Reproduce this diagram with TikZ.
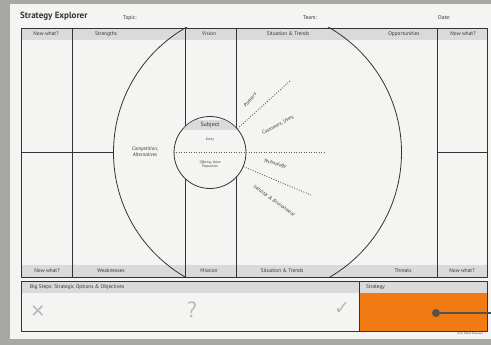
\documentclass[tikz,border=0pt]{standalone}
\usepackage{fontspec}
\setmainfont{PT Sans}
\newfontfamily\symfont{DejaVu Sans}
\usetikzlibrary{positioning,calc}
\definecolor{paper}{HTML}{F4F4F2}
\definecolor{band}{HTML}{DADADA}
\definecolor{ink}{HTML}{333333}
\definecolor{mark}{HTML}{B8B8B8}
\definecolor{strat}{HTML}{F27A12}
\definecolor{desk}{HTML}{A9A7A4}

\begin{document}
\begin{tikzpicture}[x=1pt,y=-1pt,line join=round,
  frame/.style={draw=ink,line width=0.8pt},
  head/.style={font=\fontsize{5.3}{6}\selectfont,text=ink,inner sep=0pt},
  topic/.style={font=\fontsize{5.5}{6}\selectfont,text=ink,inner sep=0pt,anchor=west},
  note/.style={font=\fontsize{5.1}{6}\selectfont\itshape,text=ink,inner sep=0pt,align=center},
  tiny/.style={font=\fontsize{3.5}{4}\selectfont\itshape,text=ink,inner sep=0pt,align=center},
  ray/.style={draw=ink!80,line width=0.9pt,dash pattern=on 0.9pt off 1.6pt},
  sign/.style={font=\symfont\fontsize{18}{18}\selectfont,text=mark,inner sep=0pt}]
  \useasboundingbox (0,0) rectangle (491,345);
  % desk and sheet
  \fill[desk] (0,0) rectangle (491,345);
  \fill[paper] (10,4) rectangle (491,339);
  % title row
  \node[anchor=west,inner sep=0pt,font=\fontsize{9}{10}\selectfont\bfseries,text=ink] (title) at (20,16) {Strategy Explorer};
  \node[topic] (topic) at (123,18) {Topic:};
  \node[topic] (team) at (303,18) {Team:};
  \node[topic] (date) at (438,18) {Date:};
  % header and footer bands
  \fill[band] (21,28) rectangle (487,40);
  \fill[band] (21,265) rectangle (487,277);
  % big circle, cut by the frame
  \begin{scope}
    \clip (21,28) rectangle (487,277);
    \draw[frame] (257.5,152.5) circle (144);
  \end{scope}
  % frame and columns
  \draw[frame] (21,28) rectangle (487,277);
  \draw[frame] (72,28) -- (72,277);
  \draw[frame] (185,28) -- (185,277);
  \draw[frame] (236,28) -- (236,277);
  \draw[frame] (437,28) -- (437,277);
  \draw[frame] (21,152.5) -- (113.5,152.5);
  \draw[frame] (437,152.5) -- (487,152.5);
  % subject circle
  \node[circle,draw=ink,fill=paper,line width=0.8pt,minimum size=72pt,inner sep=0pt] (subj) at (210,152.5) {};
  \begin{scope}
    \clip (210,152.5) circle (35.5);
    \fill[band] (170,120) rectangle (250,130);
  \end{scope}
  \node[head,font=\fontsize{6}{7}\selectfont] (subject) at (210,125) {Subject};
  \node[tiny] (entity) at (210,140) {Entity};
  \node[tiny] (offer) at (210,165) {Offering, Value\\Proposition};
  % rays
  \coordinate (p) at (290,81);
  \coordinate (t) at (325,152.5);
  \coordinate (i) at (311,195);
  \draw[ray] (subj.west) -- (t);
  \draw[ray] (subj.41) -- (p);
  \draw[ray] (subj.-23) -- (i);
  \node[note,rotate=52] (partners) at (250,100) {Partners};
  \node[note,rotate=28] (users) at (278,125) {Customers, Users};
  \node[note,rotate=-15] (tech) at (275,164) {Technology};
  \node[note,rotate=-36] (env) at (274,201) {Industry \& Environment};
  \node[note] (compet) at (145,152) {Competition,\\Alternatives};
  % column heads
  \node[head] (nw1) at (46,34) {Now what?};
  \node[head] (str) at (106,34) {Strengths};
  \node[head] (vis) at (209,34) {Vision};
  \node[head] (sit1) at (288,34) {Situation \& Trends};
  \node[head] (opp) at (404,34) {Opportunities};
  \node[head] (nw2) at (463,34) {Now what?};
  % column feet
  \node[head] (nw3) at (47,271) {Now what?};
  \node[head] (weak) at (111,271) {Weaknesses};
  \node[head] (mis) at (209,271) {Mission};
  \node[head] (sit2) at (282,271) {Situation \& Trends};
  \node[head] (thr) at (403,271) {Threats};
  \node[head] (nw4) at (462,271) {Now what?};
  % big steps and strategy
  \fill[band] (21,281) rectangle (487,293);
  \fill[strat] (359,293) rectangle (487,331);
  \draw[frame] (21,281) rectangle (487,331);
  \draw[frame] (359,281) -- (359,331);
  \node[head,anchor=west] (steps) at (30,287) {Big Steps: Strategic Options \& Objectives};
  \node[head,anchor=west] (strategy) at (366,287) {Strategy};
  \node[sign] (no) at (38,312) {✕};
  \node[sign,font=\fontsize{22}{22}\selectfont] (maybe) at (192,310) {?};
  \node[sign,font=\symfont\fontsize{19}{19}\selectfont] (yes) at (342,309) {✓};
  \node[circle,fill=ink!85,inner sep=0pt,minimum size=8pt] (dot) at (436,313) {};
  \coordinate (edge) at (491,313);
  \draw[ink!85,line width=1.2pt] (dot) -- (edge);
  \node[anchor=east,font=\fontsize{2.6}{3}\selectfont,text=ink,inner sep=0pt] (copy) at (483,334) {© Dr. Stefan Pastuszka};
\end{tikzpicture}
\end{document}
